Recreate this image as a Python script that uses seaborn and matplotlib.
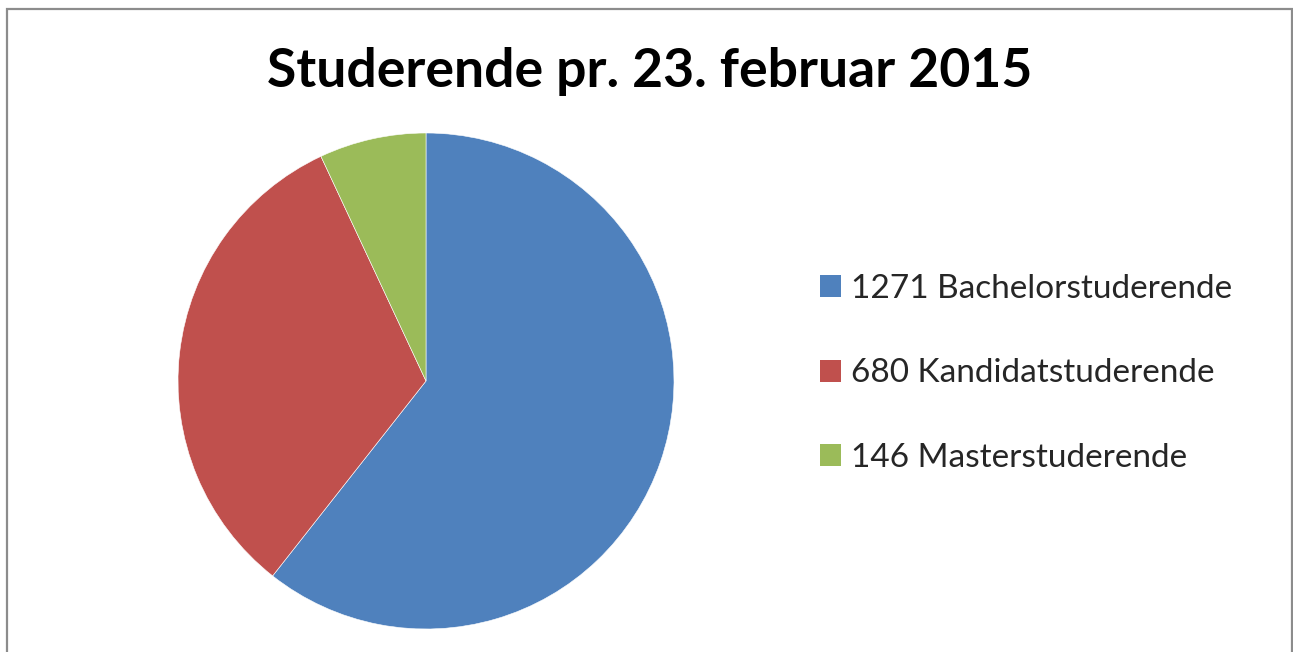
import matplotlib
matplotlib.use("Agg")
import matplotlib.pyplot as plt
import seaborn as sns
from matplotlib.patches import Rectangle

# data
groups = ["Bachelorstuderende", "Kandidatstuderende", "Masterstuderende"]
counts = [1271, 680, 146]
colors = ["#4F81BD", "#C0504D", "#9BBB59"]
title = "Studerende pr. 23. februar 2015"

sns.set_theme(style="white")
plt.rcParams['font.family'] = ['Lato', 'DejaVu Sans']

W, H = 1293, 652
fig = plt.figure(figsize=(W / 100, H / 100), dpi=100)
fig.patch.set_facecolor("white")

# pie axes: centre (426, 381) px, radius 248 px
cx, cy, r = 426, 381, 248
ax = fig.add_axes([(cx - r) / W, (H - cy - r) / H, 2 * r / W, 2 * r / H])
wedges, _ = ax.pie(counts, colors=colors, startangle=90, counterclock=False,
                   radius=1, wedgeprops=dict(edgecolor="white", linewidth=0.4))
ax.set_xlim(-1, 1)
ax.set_ylim(-1, 1)
ax.axis("off")

labels = [f"{c} {g}" for c, g in zip(counts, groups)]
fs = 24
leg = fig.legend(wedges, labels, loc="upper left",
                 bbox_to_anchor=(820 / W, 1 - 274 / H),
                 frameon=False, fontsize=fs,
                 handlelength=0.63, handleheight=0.63, handletextpad=0.3,
                 labelspacing=1.63, borderpad=0, borderaxespad=0)
for h in leg.legend_handles:
    h.set_edgecolor("none")

fig.text(650 / W, 1 - 71 / H, title, ha="center", va="center",
         fontsize=38.5, fontweight="bold", color="black")

# chart border (bottom edge is cut off by the image)
fig.patches.append(Rectangle((7 / W, -0.05), (1292 - 7) / W, 1.05 - 9 / H,
                             transform=fig.transFigure, fill=False,
                             edgecolor="#8c8c8c", linewidth=1.6))

fig.savefig("out.png", dpi=100)
